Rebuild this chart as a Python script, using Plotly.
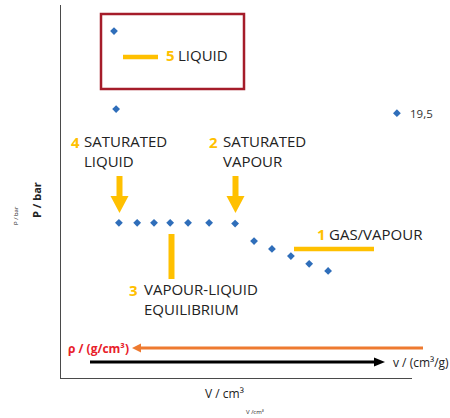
import plotly.graph_objects as go

# ---- data (arbitrary units, no ticks in original) ----
v_values = [15.1, 15.7, 95.7, 16.5, 21.7, 26.5, 31.1, 36.2, 42.2, 49.6, 55.0, 60.1, 65.5, 70.7, 76.1]
p_values = [93.0, 72.1, 71.0, 41.6, 41.6, 41.6, 41.6, 41.6, 41.6, 41.4, 36.7, 34.6, 32.7, 30.6, 28.7]
labelled_point = 2
point_label = "19,5"

W, H = 450, 418
L, R, T, B = 61, 412, 5, 378
PW, PH = R - L, B - T

def fx(px):
    return (px - L) / PW

def fy(py):
    return (B - py) / PH

YEL = "#FFC000"
BLUE = "#2F6EBA"
FONT = "Open Sans"

fig = go.Figure()
fig.add_trace(go.Scatter(
    x=v_values, y=p_values, mode="markers",
    marker=dict(symbol="diamond", size=6, color=BLUE),
    cliponaxis=False, hoverinfo="skip", showlegend=False,
))

shapes = []
def seg(x0, y0, x1, y1, color, width):
    shapes.append(dict(type="line", xref="paper", yref="paper",
                       x0=fx(x0), y0=fy(y0), x1=fx(x1), y1=fy(y1),
                       line=dict(color=color, width=width)))

def poly(pts, color):
    path = "M " + " L ".join(f"{fx(a):.5f},{fy(b):.5f}" for a, b in pts) + " Z"
    shapes.append(dict(type="path", xref="paper", yref="paper", path=path,
                       fillcolor=color, line=dict(width=0)))

# red box
shapes.append(dict(type="rect", xref="paper", yref="paper",
                   x0=fx(101), x1=fx(244), y0=fy(89), y1=fy(14),
                   line=dict(color="#A51C2A", width=2.5)))
# yellow bars
seg(123, 57, 158, 57, YEL, 4.5)
seg(294, 249, 374, 249, YEL, 4.5)
seg(171.5, 234, 171.5, 279, YEL, 6)
# yellow down arrows
for cx in (119.5, 235.5):
    poly([(cx - 3, 176), (cx + 3, 176), (cx + 3, 197), (cx - 3, 197)], YEL)
    poly([(cx - 9, 196), (cx + 9, 196), (cx, 213)], YEL)
# orange arrow (density, pointing left)
seg(138, 348, 423, 348, "#EE7A30", 3)
poly([(132, 348), (141, 343.5), (141, 352.5)], "#EE7A30")
# black arrow (specific volume, pointing right)
seg(90, 362, 377, 362, "#000000", 3)
poly([(385, 362), (374, 357.5), (374, 366.5)], "#000000")

ann = []
def txt(x, y, s, size=15, color="#222222", anchor="left", bold=False, angle=0, yanchor="middle"):
    if bold:
        s = f"<b>{s}</b>"
    ann.append(dict(xref="paper", yref="paper", x=fx(x), y=fy(y), text=s,
                    showarrow=False, xanchor=anchor, yanchor=yanchor, align="left",
                    textangle=angle, font=dict(family=FONT, size=size, color=color)))

txt(164, 55, "5", color=YEL, bold=True)
txt(176, 55, "LIQUID")
txt(69, 142, "4", color=YEL, bold=True)
txt(82, 151, "SATURATED<br>LIQUID")
txt(207, 142, "2", color=YEL, bold=True)
txt(221, 151, "SATURATED<br>VAPOUR")
txt(315, 234, "1", color=YEL, bold=True)
txt(327, 234, "GAS/VAPOUR")
txt(127, 290, "3", color=YEL, bold=True)
txt(142, 299, "VAPOUR-LIQUID<br>EQUILIBRIUM")
txt(66, 348, "ρ / (g/cm³)", size=12, color="#E8202A", bold=True)
txt(391, 362, "v / (cm³/g)", size=12, color="#222222")
txt(224.5, 393, "V / cm³", size=12, anchor="center")
txt(255, 412, "V /cm³", size=6, anchor="center")
txt(36, 200, "P / bar", size=11, anchor="center", bold=True, angle=-90)
txt(16, 216, "P / bar", size=6, anchor="center", angle=-90)

# data label of the isolated point
ann.append(dict(x=v_values[labelled_point], y=p_values[labelled_point], text=point_label,
                showarrow=False, xanchor="left", yanchor="middle", xshift=11,
                font=dict(family=FONT, size=11.5, color="#333333")))

fig.update_layout(
    width=W, height=H,
    margin=dict(l=L, r=W - R, t=T, b=H - B, pad=0),
    paper_bgcolor="white", plot_bgcolor="white",
    xaxis=dict(range=[0, 100], showgrid=False, zeroline=False, showticklabels=False,
               ticks="", showline=True, linecolor="#4a4a4a", linewidth=1.2),
    yaxis=dict(range=[0, 100], showgrid=False, zeroline=False, showticklabels=False,
               ticks="", showline=True, linecolor="#4a4a4a", linewidth=1.2),
    shapes=shapes, annotations=ann,
)
fig.write_html("out.html", config={"displayModeBar": False},
               post_script="document.body.style.margin='0';")
